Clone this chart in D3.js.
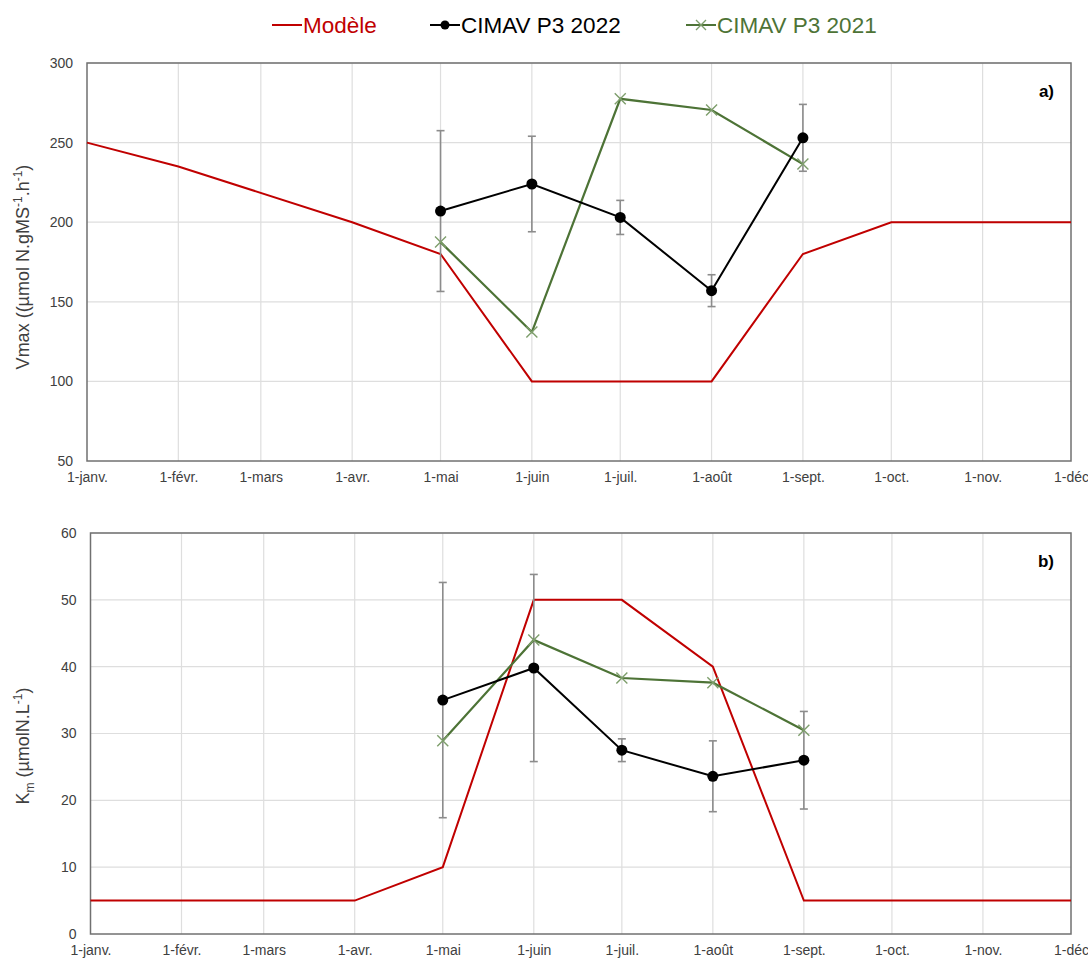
<!DOCTYPE html>
<html>
<head>
<meta charset="utf-8">
<script src="https://cdn.jsdelivr.net/npm/d3@7/dist/d3.min.js"></script>
<style>
  html, body { margin: 0; padding: 0; background: #fff; }
  svg { display: block; font-family: "Liberation Sans", Arial, sans-serif; }
</style>
</head>
<body>
<svg id="chart" width="1088" height="961"></svg>
<script>
// Month ticks along the x axis
const monthDates = ["2022-01-01","2022-02-01","2022-03-01","2022-04-01","2022-05-01","2022-06-01",
                    "2022-07-01","2022-08-01","2022-09-01","2022-10-01","2022-11-01","2022-12-01"];
const monthLabels = ["1-janv.","1-févr.","1-mars","1-avr.","1-mai","1-juin",
                     "1-juil.","1-août","1-sept.","1-oct.","1-nov.","1-déc"];

// Model (Vmax)
const vmaxModelDates = ["2022-01-01","2022-02-01","2022-04-01","2022-05-01","2022-06-01",
                        "2022-07-01","2022-08-01","2022-09-01","2022-10-01","2022-12-01"];
const vmaxModel = [250, 235, 200, 180, 100, 100, 100, 180, 200, 200];

// Model (Km)
const kmModelDates = ["2022-01-01","2022-04-01","2022-05-01","2022-06-01",
                      "2022-07-01","2022-08-01","2022-09-01","2022-12-01"];
const kmModel = [5, 5, 10, 50, 50, 40, 5, 5];

// Field measurements
const obsDates = ["2022-05-01","2022-06-01","2022-07-01","2022-08-01","2022-09-01"];
const vmax2022 = [207, 224, 203, 157, 253];
const vmax2022Err = [50.5, 30, 10.7, 10, 21];
const vmax2021 = [187.5, 131, 277.5, 270.5, 236.5];
const km2022 = [35, 39.8, 27.5, 23.6, 26];
const km2022Err = [17.6, 14, 1.7, 5.3, 7.3];
const km2021 = [28.9, 44, 38.3, 37.6, 30.5];

const vmaxTicks = [50, 100, 150, 200, 250, 300];
const kmTicks = [0, 10, 20, 30, 40, 50, 60];

const seriesNames = ["Modèle", "CIMAV P3 2022", "CIMAV P3 2021"];

const RED = "#c00000", BLACK = "#000000", GREEN = "#4d7336", XMARK = "#7e9e6c";
const GRID = "#dedede", TEXT = "#404040", ERR = "#8c8c8c";

const parse = d3.timeParse("%Y-%m-%d");
const svg = d3.select("#chart");

function panel(opts) {
  const { left, right, top, bottom, domain, ticks, modelDates, model,
          obs22, err22, obs21, tag } = opts;
  const x = d3.scaleTime()
    .domain([parse(monthDates[0]), parse(monthDates[monthDates.length - 1])])
    .range([left, right]);
  const y = d3.scaleLinear().domain(domain).range([bottom, top]);
  const g = svg.append("g");

  // gridlines
  g.append("g").selectAll("line").data(ticks.slice(1)).join("line")
    .attr("x1", left).attr("x2", right)
    .attr("y1", d => y(d)).attr("y2", d => y(d))
    .attr("stroke", GRID).attr("stroke-width", 1.2);
  g.append("g").selectAll("line").data(monthDates.slice(1, -1)).join("line")
    .attr("x1", d => x(parse(d))).attr("x2", d => x(parse(d)))
    .attr("y1", top).attr("y2", bottom)
    .attr("stroke", GRID).attr("stroke-width", 1.2);

  // frame
  g.append("rect").attr("x", left).attr("y", top)
    .attr("width", right - left).attr("height", bottom - top)
    .attr("fill", "none").attr("stroke", "#707070").attr("stroke-width", 1.5);

  // y axis
  const ya = g.append("g").attr("transform", `translate(${left - 14},0)`)
    .call(d3.axisLeft(y).tickValues(ticks).tickSize(0).tickPadding(0));
  ya.select(".domain").remove();
  ya.selectAll("text").attr("fill", TEXT).style("font-size", "14px");

  // x axis
  const xa = g.append("g").attr("transform", `translate(0,${bottom + 10})`)
    .call(d3.axisBottom(x).tickValues(monthDates.map(parse))
      .tickFormat((d, i) => monthLabels[i]).tickSize(0).tickPadding(0));
  xa.select(".domain").remove();
  xa.selectAll("text").attr("fill", TEXT).style("font-size", "14px").attr("dy", "0.8em");

  // model line
  const line = d3.line().x(d => x(d[0])).y(d => y(d[1]));
  g.append("path")
    .datum(modelDates.map((d, i) => [parse(d), model[i]]))
    .attr("d", line).attr("fill", "none").attr("stroke", RED).attr("stroke-width", 2);

  // error bars for 2022
  const eb = g.append("g").attr("stroke", ERR).attr("stroke-width", 1.6);
  obsDates.forEach((d, i) => {
    const cx = x(parse(d));
    const y0 = y(obs22[i] - err22[i]), y1 = y(obs22[i] + err22[i]);
    eb.append("line").attr("x1", cx).attr("x2", cx).attr("y1", y0).attr("y2", y1);
    eb.append("line").attr("x1", cx - 4).attr("x2", cx + 4).attr("y1", y0).attr("y2", y0);
    eb.append("line").attr("x1", cx - 4).attr("x2", cx + 4).attr("y1", y1).attr("y2", y1);
  });

  // 2021 series
  const pts21 = obsDates.map((d, i) => [parse(d), obs21[i]]);
  g.append("path").datum(pts21).attr("d", line)
    .attr("fill", "none").attr("stroke", GREEN).attr("stroke-width", 2.2);
  g.append("g").selectAll("path").data(pts21).join("path")
    .attr("d", d => {
      const cx = x(d[0]), cy = y(d[1]), s = 5.5;
      return `M${cx - s},${cy - s}L${cx + s},${cy + s}M${cx - s},${cy + s}L${cx + s},${cy - s}`;
    })
    .attr("stroke", XMARK).attr("stroke-width", 1.4).attr("fill", "none");

  // 2022 series
  const pts22 = obsDates.map((d, i) => [parse(d), obs22[i]]);
  g.append("path").datum(pts22).attr("d", line)
    .attr("fill", "none").attr("stroke", BLACK).attr("stroke-width", 2);
  g.append("g").selectAll("circle").data(pts22).join("circle")
    .attr("cx", d => x(d[0])).attr("cy", d => y(d[1])).attr("r", 5.5)
    .attr("fill", BLACK);

  // panel tag
  g.append("text").attr("x", right - 17).attr("y", top + 34)
    .attr("text-anchor", "end").attr("font-weight", "bold")
    .style("font-size", "17px").attr("fill", "#000").text(tag);

  return g;
}

panel({ left: 87, right: 1071, top: 63, bottom: 461, domain: [50, 300], ticks: vmaxTicks,
        modelDates: vmaxModelDates, model: vmaxModel,
        obs22: vmax2022, err22: vmax2022Err, obs21: vmax2021, tag: "a)" });
panel({ left: 90.5, right: 1071, top: 533, bottom: 934, domain: [0, 60], ticks: kmTicks,
        modelDates: kmModelDates, model: kmModel,
        obs22: km2022, err22: km2022Err, obs21: km2021, tag: "b)" });

// y axis titles
const t1 = svg.append("text").attr("transform", "translate(29,267) rotate(-90)")
  .attr("text-anchor", "middle").attr("fill", TEXT).style("font-size", "18px");
t1.append("tspan").text("Vmax ((µmol N.gMS");
t1.append("tspan").attr("dy", -7).style("font-size", "12px").text("-1");
t1.append("tspan").attr("dy", 7).text(".h");
t1.append("tspan").attr("dy", -7).style("font-size", "12px").text("-1");
t1.append("tspan").attr("dy", 7).text(")");

const t2 = svg.append("text").attr("transform", "translate(29,746) rotate(-90)")
  .attr("text-anchor", "middle").attr("fill", TEXT).style("font-size", "18px");
t2.append("tspan").text("K");
t2.append("tspan").attr("dy", 5).style("font-size", "12px").text("m");
t2.append("tspan").attr("dy", -5).text(" (µmolN.L");
t2.append("tspan").attr("dy", -7).style("font-size", "12px").text("-1");
t2.append("tspan").attr("dy", 7).text(")");

// legend
const legend = svg.append("g").style("font-size", "22.5px");
const legItems = [
  { x: 272, color: RED, marker: null },
  { x: 430, color: BLACK, marker: "circle" },
  { x: 686, color: GREEN, marker: "x" }
];
legItems.forEach((it, i) => {
  const ly = 25;
  legend.append("line").attr("x1", it.x).attr("x2", it.x + 30)
    .attr("y1", ly).attr("y2", ly).attr("stroke", it.color).attr("stroke-width", 2);
  if (it.marker === "circle") {
    legend.append("circle").attr("cx", it.x + 15).attr("cy", ly).attr("r", 4.5).attr("fill", BLACK);
  } else if (it.marker === "x") {
    const s = 5;
    legend.append("path")
      .attr("d", `M${it.x + 15 - s},${ly - s}L${it.x + 15 + s},${ly + s}M${it.x + 15 - s},${ly + s}L${it.x + 15 + s},${ly - s}`)
      .attr("stroke", XMARK).attr("stroke-width", 1.4);
  }
  legend.append("text").attr("x", it.x + 31).attr("y", ly + 8)
    .attr("fill", it.color).text(seriesNames[i]);
});
</script>
</body>
</html>
